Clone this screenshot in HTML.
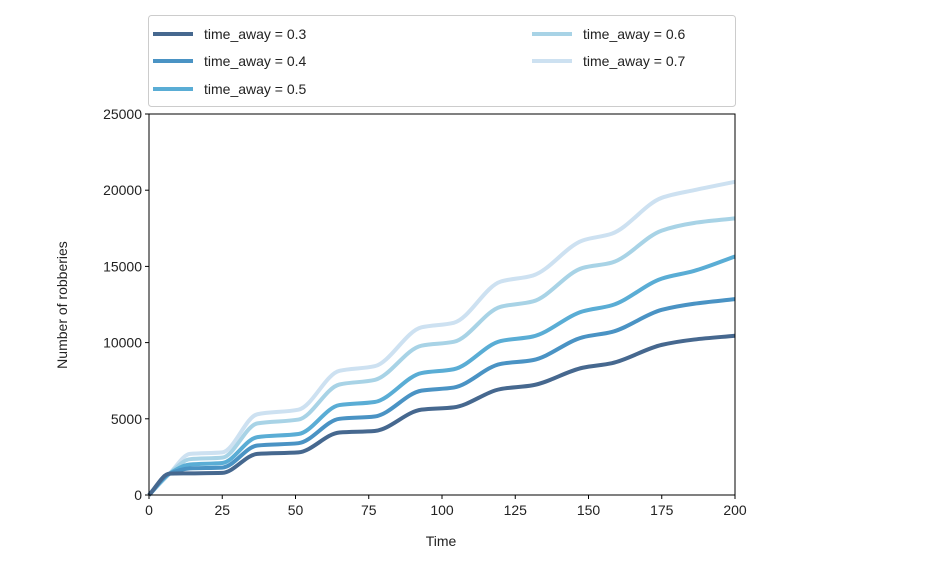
<!DOCTYPE html>
<html><head><meta charset="utf-8"><style>
body{margin:0;background:#fff;}
svg{font-family:"Liberation Sans",sans-serif;}
</style></head><body>
<svg width="931" height="567" viewBox="0 0 931 567" id="svg">
<rect x="0" y="0" width="931" height="567" fill="#fff"/>
</svg>
<script>
const times=[0,7,14,25,37,51,65,77,93,104,120,131,148,158,175,186,200];
const s03=[0,1400,1420,1450,2700,2800,4100,4200,5600,5750,6950,7200,8350,8650,9850,10200,10450];
const s04=[0,1400,1750,1800,3250,3400,5000,5150,6850,7050,8600,8850,10350,10700,12150,12550,12850];
const s05=[0,1400,2000,2100,3800,4000,5900,6100,8000,8250,10100,10400,12050,12450,14200,14700,15650];
const s06=[0,1400,2350,2450,4700,4950,7250,7550,9800,10050,12350,12700,14900,15250,17350,17850,18150];
const s07=[0,1400,2700,2800,5300,5600,8150,8450,11000,11300,14000,14400,16700,17150,19500,20000,20550];
const seriesLabels=["time_away = 0.3","time_away = 0.4","time_away = 0.5","time_away = 0.6","time_away = 0.7"];
const xTicks=[0,25,50,75,100,125,150,175,200];
const yTicks=[0,5000,10000,15000,20000,25000];
const series=[s03,s04,s05,s06,s07];
const colors=["#46688f","#4a93c4","#5aadd5","#a8d3e6","#cde1f1"];
const L=149,R=735,T=114,B=495;
const X=v=>L+(v/200)*(R-L);
const Y=v=>B-(v/25000)*(B-T);
const svg=document.getElementById('svg');
const NS="http://www.w3.org/2000/svg";
function mk(tag,attrs,parent){const e=document.createElementNS(NS,tag);for(const k in attrs)e.setAttribute(k,attrs[k]);(parent||svg).appendChild(e);return e;}
function mono(xs,ys){const n=xs.length,d=[],m=[];for(let i=0;i<n-1;i++)d.push((ys[i+1]-ys[i])/(xs[i+1]-xs[i]));m[0]=d[0];m[n-1]=d[n-2];for(let i=1;i<n-1;i++){if(d[i-1]*d[i]<=0)m[i]=0;else{m[i]=2/(1/d[i-1]+1/d[i]);}}
let p="M"+X(xs[0])+","+Y(ys[0]);for(let i=0;i<n-1;i++){const h=xs[i+1]-xs[i];p+=" C"+X(xs[i]+h/3)+","+Y(ys[i]+m[i]*h/3)+" "+X(xs[i+1]-h/3)+","+Y(ys[i+1]-m[i+1]*h/3)+" "+X(xs[i+1])+","+Y(ys[i+1]);}return p;}
for(let i=series.length-1;i>=0;i--){const p=mk('path',{d:mono(times,series[i]),fill:'none',stroke:colors[i],'stroke-width':4,'stroke-linejoin':'round'});

}
const ax=mk('rect',{x:L,y:T,width:R-L,height:B-T,fill:'none',stroke:'#000','stroke-width':1});


xTicks.forEach(v=>{mk('line',{x1:X(v),x2:X(v),y1:B,y2:B+4,stroke:'#000'});const t=mk('text',{x:X(v),y:B+20,'text-anchor':'middle','font-size':14,fill:'#222'});t.textContent=v;

});
yTicks.forEach(v=>{mk('line',{x1:L-4,x2:L,y1:Y(v),y2:Y(v),stroke:'#000'});const t=mk('text',{x:L-7,y:Y(v)+5,'text-anchor':'end','font-size':14,fill:'#222'});t.textContent=v;

});
const xt=mk('text',{x:441,y:546,'text-anchor':'middle','font-size':14,fill:'#222'});xt.textContent='Time';


const yt=mk('text',{x:0,y:0,'text-anchor':'middle','font-size':14,fill:'#222',transform:'translate(67,305) rotate(-90)'});yt.textContent='Number of robberies';


const lg=mk('g',{});


mk('rect',{x:148.5,y:15.5,width:587,height:91,rx:3,fill:'#fff',stroke:'#ccc'},lg);
const pos=[[153,34],[153,61],[153,89],[532,34],[532,61]];
seriesLabels.forEach((s,i)=>{const [x,y]=pos[i];const g=mk('g',{},lg);


mk('line',{x1:x,x2:x+40,y1:y,y2:y,stroke:colors[i],'stroke-width':4},g);const t=mk('text',{x:x+51,y:y+5,'font-size':14,fill:'#222'},g);t.textContent=s;});
</script>
</body></html>
